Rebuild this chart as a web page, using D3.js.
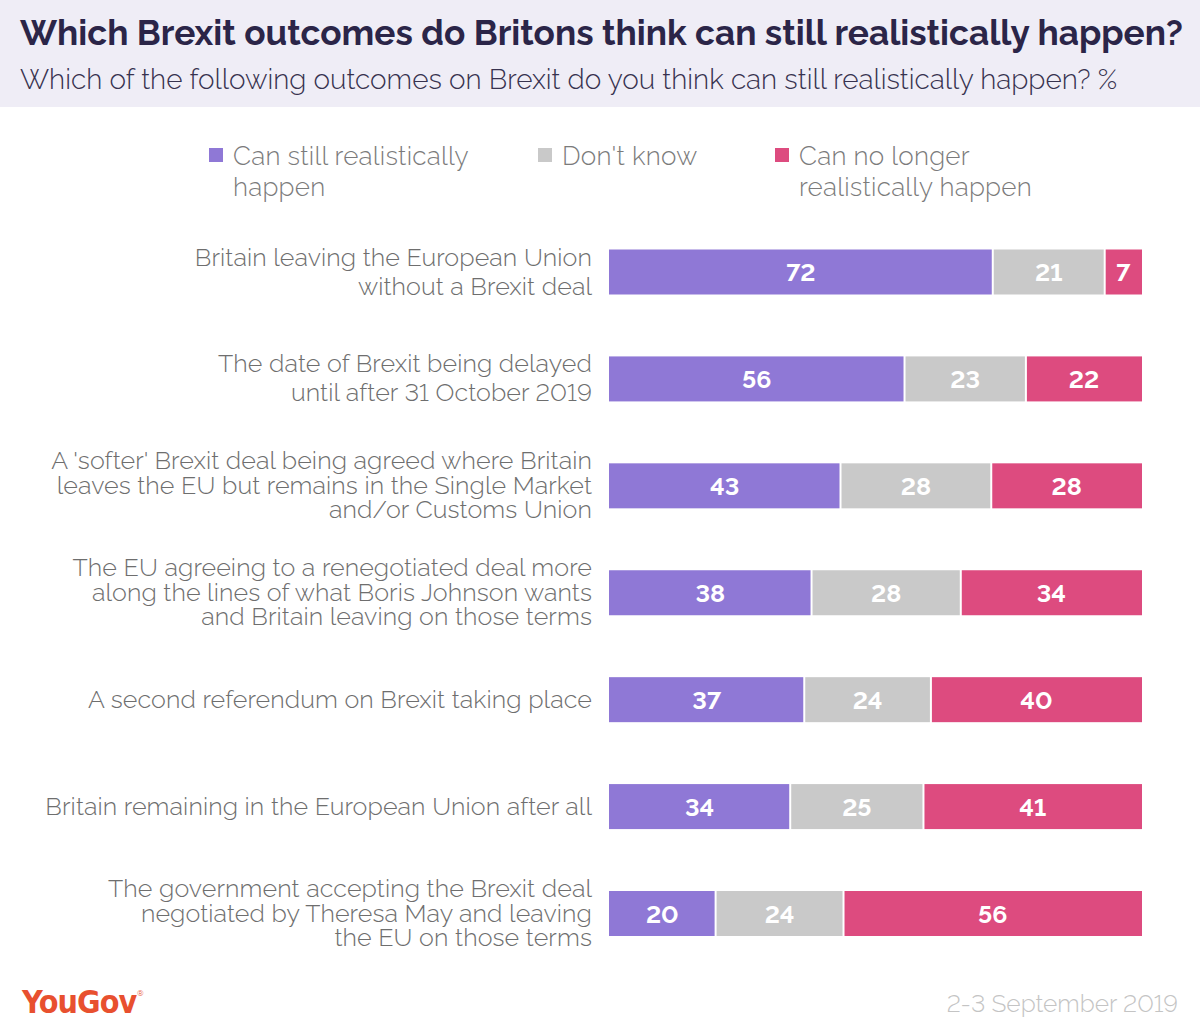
<!DOCTYPE html>
<html>
<head>
<meta charset="utf-8">
<script src="https://cdn.jsdelivr.net/npm/d3@7"></script>
<style>
  body{margin:0;background:#fff;}
  svg{display:block;font-family:Raleway,Lato,"Open Sans",sans-serif;font-variant-numeric:lining-nums;font-feature-settings:"lnum" 1;}
</style>
</head>
<body>
<svg id="chart"></svg>
<script>
var categories=[
  ["Britain leaving the European Union","without a Brexit deal"],
  ["The date of Brexit being delayed","until after 31 October 2019"],
  ["A 'softer' Brexit deal being agreed where Britain","leaves the EU but remains in the Single Market","and/or Customs Union"],
  ["The EU agreeing to a renegotiated deal more","along the lines of what Boris Johnson wants","and Britain leaving on those terms"],
  ["A second referendum on Brexit taking place"],
  ["Britain remaining in the European Union after all"],
  ["The government accepting the Brexit deal","negotiated by Theresa May and leaving","the EU on those terms"]
];
var canHappen=[72,56,43,38,37,34,20];
var dontKnow=[21,23,28,28,24,25,24];
var cannotHappen=[7,22,28,34,40,41,56];
var seriesNames=[["Can still realistically","happen"],["Don't know"],["Can no longer","realistically happen"]];
var colors=["#8f78d6","#c9c9c9","#dd4b7f"];

var W=1200,H=1036;
var svg=d3.select("#chart").attr("width",W).attr("height",H);

// header band
svg.append("rect").attr("x",0).attr("y",0).attr("width",W).attr("height",107).attr("fill","#efedf6");

function fit(sel,target){
  var len=sel.node().getComputedTextLength();
  var fs=parseFloat(sel.attr("font-size"));
  sel.attr("font-size",fs*target/len);
}
var title=svg.append("text").attr("x",20).attr("y",45)
  .attr("font-size",34).attr("font-weight",700).attr("fill","#2b2548")
  .text("Which Brexit outcomes do Britons think can still realistically happen?");
fit(title,1163);
var sub=svg.append("text").attr("x",20).attr("y",89)
  .attr("font-size",25).attr("font-weight",300).attr("fill","#37324f")
  .text("Which of the following outcomes on Brexit do you think can still realistically happen? %");
fit(sub,1098);

// legend
var legendX=[209,538,775];
var legend=svg.selectAll("g.legend").data(seriesNames).enter().append("g").attr("class","legend")
  .attr("transform",function(d,i){return "translate("+legendX[i]+",0)";});
legend.append("rect").attr("x",0).attr("y",148).attr("width",14).attr("height",14)
  .attr("fill",function(d,i){return colors[i];});
legend.append("text").attr("x",24).attr("y",165).attr("font-size",26).attr("font-weight",300)
  .attr("letter-spacing",0.25).attr("fill","#7b7b7b")
  .selectAll("tspan").data(function(d){return d;}).enter().append("tspan")
  .attr("x",24).attr("dy",function(d,i){return i?31:0;}).text(function(d){return d;});

// scales
var idx=d3.range(categories.length);
var y=d3.scalePoint().domain(idx).range([272,913.5]);
var x=d3.scaleLinear().domain([0,100]).range([609,1142]);
var barH=45;

var rows=idx.map(function(i){
  var vals=[canHappen[i],dontKnow[i],cannotHappen[i]];
  var tot=d3.sum(vals),c=0;
  return vals.map(function(v,k){
    var s={k:k,v:v,x0:c/tot*100,x1:(c+v)/tot*100};c+=v;return s;
  });
});

var row=svg.selectAll("g.row").data(rows).enter().append("g").attr("class","row")
  .attr("transform",function(d,i){return "translate(0,"+y(i)+")";});

row.selectAll("rect").data(function(d){return d;}).enter().append("rect")
  .attr("x",function(d){return x(d.x0)+(d.k?1:0);})
  .attr("width",function(d){return x(d.x1)-x(d.x0)-(d.k?1:0)-(d.k<2?1:0);})
  .attr("y",-barH/2).attr("height",barH)
  .attr("fill",function(d){return colors[d.k];});

row.selectAll("text.val").data(function(d){return d;}).enter().append("text").attr("class","val")
  .attr("x",function(d){return (x(d.x0)+x(d.x1))/2;})
  .attr("y",9).attr("text-anchor","middle")
  .attr("font-size",25).attr("font-weight",700).attr("fill","#fff")
  .text(function(d){return d.v;});

// category labels
row.append("text").attr("text-anchor","end").attr("font-size",25).attr("font-weight",300)
  .attr("letter-spacing",0.1).attr("fill","#6e6e6e")
  .each(function(d,i){
    var lines=categories[i];
    var lh=lines.length==2?29:24.5;
    var start=-(lines.length-1)*lh/2+8;
    d3.select(this).selectAll("tspan").data(lines).enter().append("tspan")
      .attr("x",592).attr("y",function(l,j){return start+j*lh;}).text(function(l){return l;});
  });

// footer
var logo=svg.append("text").attr("x",22).attr("y",1013)
  .attr("font-family","'Liberation Sans Narrow','DejaVu Sans Condensed',sans-serif")
  .attr("font-size",31).attr("font-weight",700).attr("fill","#e8502f").attr("letter-spacing",-1)
  .text("YouGov");
fit(logo,114);
svg.append("text").attr("x",137).attr("y",996).attr("font-size",8).attr("fill","#e8502f").text("®");
svg.append("text").attr("x",1178).attr("y",1012).attr("text-anchor","end")
  .attr("font-size",24.5).attr("font-weight",300).attr("fill","#c4c4c4")
  .text("2-3 September 2019");
</script>
</body>
</html>
